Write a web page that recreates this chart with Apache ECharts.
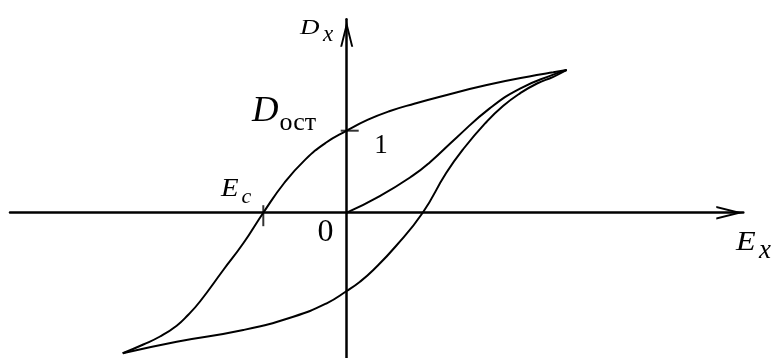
<!DOCTYPE html>
<html>
<head>
<meta charset="utf-8">
<script src="https://cdn.jsdelivr.net/npm/echarts@6/dist/echarts.min.js"></script>
<style>
  html, body { margin: 0; padding: 0; background: #fff; }
  #chart { width: 774px; height: 358px; }
</style>
</head>
<body>
<div id="chart"></div>
<script>
// Hysteresis loop D(E) of a ferroelectric, arbitrary units.
// Descending branch: from the positive saturation tip down to the negative tip.
const branchDown = [
  [22.0, 14.27], [20.66, 14.04], [19.0, 13.77], [14.0, 12.77], [9.33, 11.6],
  [6.83, 10.92], [4.33, 10.17], [2.13, 9.3], [0, 8.2], [-2.09, 6.99],
  [-4.17, 5.28], [-6.25, 2.97], [-8.34, 0], [-10.34, -3.06], [-12.34, -5.73],
  [-14.67, -8.88], [-15.84, -10.2], [-17.0, -11.3], [-18.67, -12.38],
  [-20.34, -13.18], [-22.4, -14.06]
];
// Ascending branch: from the negative tip back up to the positive tip.
const branchUp = [
  [-22.4, -14.06], [-17.0, -12.9], [-10.34, -11.73], [-5.34, -10.4],
  [-2.0, -9.06], [0, -7.83], [1.33, -6.9], [2.66, -5.73], [4.93, -3.33],
  [7.6, 0], [9.93, 3.94], [11.66, 6.37], [14.0, 9.1], [15.63, 10.67],
  [17.33, 11.94], [19.03, 12.92], [20.66, 13.59], [22.0, 14.27]
];
// Initial polarization curve starting at the origin.
const initialCurve = [
  [0, 0], [3.26, 1.63], [6.6, 3.7], [8.33, 5.05], [11.0, 7.53],
  [14.33, 10.46], [17.33, 12.41], [20.66, 13.81], [22.0, 14.27]
];
// Coercive field and remanent displacement (marked on the axes).
const coerciveField = -8.34;
const remanence = 8.2;

// Axis extents
const xRange = [-33.67, 39.66];
const yRange = [-14.53, 19.34];

// Open arrow head for the axis ends
const arrowPath = 'path://M10 0 L20 40 L17 40 L10 12 L3 40 L0 40 Z';

const serif = 'Liberation Serif, DejaVu Serif, serif';
const ink = '#000';

function curve(data) {
  return {
    type: 'line', data: data, smooth: 0.5, symbol: 'none',
    lineStyle: { color: ink, width: 2 }, silent: true, z: 3
  };
}

function label(text, x, y, size, italic, align, sx) {
  return {
    type: 'text', x: x, y: y, scaleX: sx || 1, silent: true,
    style: {
      text: text, fill: ink,
      font: (italic ? 'italic ' : 'normal ') + size + 'px ' + serif,
      textAlign: align || 'left', textVerticalAlign: 'middle', verticalAlign: 'middle'
    }
  };
}

const chart = echarts.init(document.getElementById('chart'), null, { renderer: 'canvas' });
chart.setOption({
  animation: false,
  backgroundColor: '#fff',
  grid: { left: 10, right: 30.7, top: 19.3, bottom: 0 },
  xAxis: {
    type: 'value', min: xRange[0], max: xRange[1],
    axisLine: {
      onZero: true, symbol: ['none', arrowPath], symbolSize: [14, 27],
      symbolOffset: [0, -13.5], lineStyle: { color: ink, width: 2.5 }
    },
    axisTick: { show: false }, axisLabel: { show: false }, splitLine: { show: false }
  },
  yAxis: {
    type: 'value', min: yRange[0], max: yRange[1],
    axisLine: {
      onZero: true, symbol: ['none', arrowPath], symbolSize: [13, 29],
      symbolOffset: [0, -14.5], lineStyle: { color: ink, width: 2.5 }
    },
    axisTick: { show: false }, axisLabel: { show: false }, splitLine: { show: false }
  },
  series: [
    curve(branchDown),
    curve(branchUp),
    curve(initialCurve),
    {
      // short tick across the E axis at the coercive field
      type: 'scatter', data: [[coerciveField, 0]], symbol: 'rect',
      symbolSize: [2, 21], symbolOffset: [0, 3], itemStyle: { color: ink }, silent: true, z: 4
    },
    {
      // short tick across the D axis at the remanent displacement
      type: 'scatter', data: [[0, remanence]], symbol: 'rect',
      symbolSize: [18, 2], symbolOffset: [3, 0], itemStyle: { color: ink }, silent: true, z: 4
    }
  ],
  graphic: [
    label('D', 300, 28.3, 20, true, 'left', 1.35),
    label('x', 323, 34.9, 23, true),
    label('D', 252, 111.5, 35, true, 'left', 1.05),
    label('ост', 279.5, 122.9, 26, false),
    label('1', 381, 145.9, 27, false, 'center'),
    label('E', 221, 189.9, 25, true, 'left', 1.15),
    label('c', 241.5, 197.6, 22, true),
    label('0', 325.5, 232.5, 32, false, 'center'),
    label('E', 736, 242.3, 28, true, 'left', 1.15),
    label('x', 759, 250.9, 27, true)
  ]
});
</script>
</body>
</html>
